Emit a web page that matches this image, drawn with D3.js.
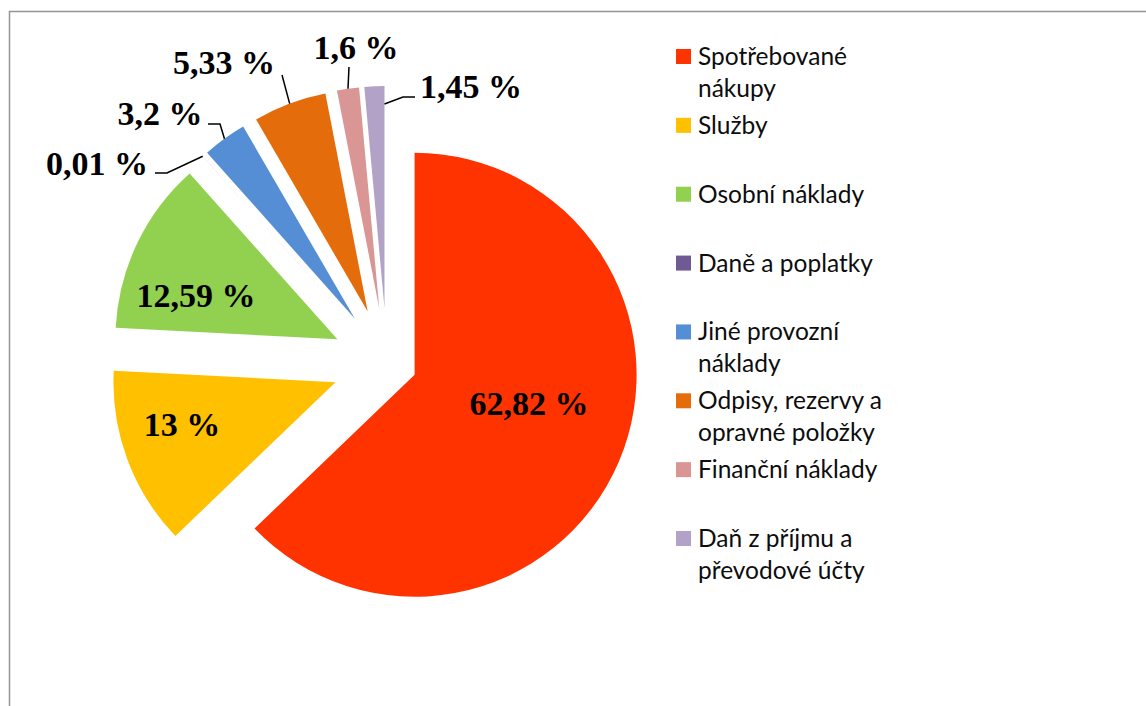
<!DOCTYPE html>
<html>
<head>
<meta charset="utf-8">
<script src="https://cdn.jsdelivr.net/npm/d3@7/dist/d3.min.js"></script>
<style>
  html, body { margin: 0; padding: 0; background: #fff; }
  svg { display: block; }
</style>
</head>
<body>
<svg id="chart" width="1146" height="706"></svg>
<script>
// ---- data ----
const categories = [
  "Spotřebované nákupy",
  "Služby",
  "Osobní náklady",
  "Daně a poplatky",
  "Jiné provozní náklady",
  "Odpisy, rezervy a opravné položky",
  "Finanční náklady",
  "Daň z příjmu a převodové účty"
];
const values = [62.82, 13, 12.59, 0.01, 3.2, 5.33, 1.6, 1.45];
const valueLabels = ["62,82 %", "13 %", "12,59 %", "0,01 %", "3,2 %", "5,33 %", "1,6 %", "1,45 %"];
const legendLines = [
  ["Spotřebované", "nákupy"],
  ["Služby"],
  ["Osobní náklady"],
  ["Daně a poplatky"],
  ["Jiné provozní", "náklady"],
  ["Odpisy, rezervy a", "opravné položky"],
  ["Finanční náklady"],
  ["Daň z příjmu a", "převodové účty"]
];

// ---- styles / layout ----
const colors = ["#FF3300", "#FFC000", "#92D050", "#705A93", "#558ED5", "#E46C0A", "#D99694", "#B3A2C7"];
const explode = [30, 55, 55, 55, 55, 55, 55, 55];
const center = { x: 387, y: 363 };
const radius = 222;
// label placement (text centre) and leader line elbows
const labelLayout = [
  { x: 529, y: 403, leader: null },
  { x: 182, y: 424, leader: null },
  { x: 196, y: 295, leader: null },
  { x: 97,  y: 163, leader: { frac: 0.5, r: 222, pts: [[167, 173], [155, 173]] } },
  { x: 160, y: 113, leader: { frac: 0.5, r: 222, pts: [[220, 124], [208, 124]] } },
  { x: 224, y: 62,  leader: { frac: 0.5, r: 222, pts: [[282, 75]] } },
  { x: 356, y: 47,  leader: { frac: 0.5, r: 222, pts: [[349, 67]] } },
  { x: 471, y: 86,  leader: { frac: 1.0, r: 204, pts: [[403, 97], [415, 97]] } }
];
const legend = { x: 676, y0: 56.5, step: 68.86, box: 15, textX: 698, lineH: 32 };

const svg = d3.select("#chart");

// chart area border
svg.append("rect")
  .attr("x", 9.5).attr("y", 11.5)
  .attr("width", 1300).attr("height", 900)
  .attr("fill", "none")
  .attr("stroke", "#959595")
  .attr("stroke-width", 1.5);

const pie = d3.pie().sort(null).value(d => d)(values);
const arc = d3.arc().innerRadius(0).outerRadius(radius);

const g = svg.append("g").attr("transform", `translate(${center.x},${center.y})`);

function offset(d, i) {
  const mid = (d.startAngle + d.endAngle) / 2;
  return [Math.sin(mid) * explode[i], -Math.cos(mid) * explode[i]];
}

g.selectAll("path.slice")
  .data(pie)
  .join("path")
  .attr("class", "slice")
  .attr("d", arc)
  .attr("fill", (d, i) => colors[i])
  .attr("transform", (d, i) => { const o = offset(d, i); return `translate(${o[0]},${o[1]})`; });

// leader lines
pie.forEach((d, i) => {
  const L = labelLayout[i].leader;
  if (!L) return;
  const o = offset(d, i);
  const a = d.startAngle + L.frac * (d.endAngle - d.startAngle);
  const start = [center.x + o[0] + Math.sin(a) * L.r, center.y + o[1] - Math.cos(a) * L.r];
  const pts = [start].concat(L.pts);
  svg.append("path")
    .attr("d", d3.line()(pts))
    .attr("fill", "none")
    .attr("stroke", "#000")
    .attr("stroke-width", 1.5);
});

// data labels
svg.selectAll("text.val")
  .data(valueLabels)
  .join("text")
  .attr("class", "val")
  .attr("x", (d, i) => labelLayout[i].x)
  .attr("y", (d, i) => labelLayout[i].y + 11.5)
  .attr("text-anchor", "middle")
  .attr("font-family", "'Liberation Serif', 'Times New Roman', serif")
  .attr("font-weight", "bold")
  .attr("font-size", 34)
  .attr("fill", "#000")
  .text(d => d);

// legend
const lg = svg.append("g");
categories.forEach((c, i) => {
  const cy = legend.y0 + i * legend.step;
  lg.append("rect")
    .attr("x", legend.x).attr("y", cy - legend.box / 2)
    .attr("width", legend.box).attr("height", legend.box)
    .attr("fill", colors[i]);
  const t = lg.append("text")
    .attr("font-family", "Lato, 'Open Sans', sans-serif")
    .attr("font-size", 24.5)
    .attr("fill", "#0D0D0D");
  legendLines[i].forEach((line, k) => {
    t.append("tspan")
      .attr("x", legend.textX)
      .attr("y", cy + 8.5 + k * legend.lineH)
      .text(line);
  });
});
</script>
</body>
</html>
